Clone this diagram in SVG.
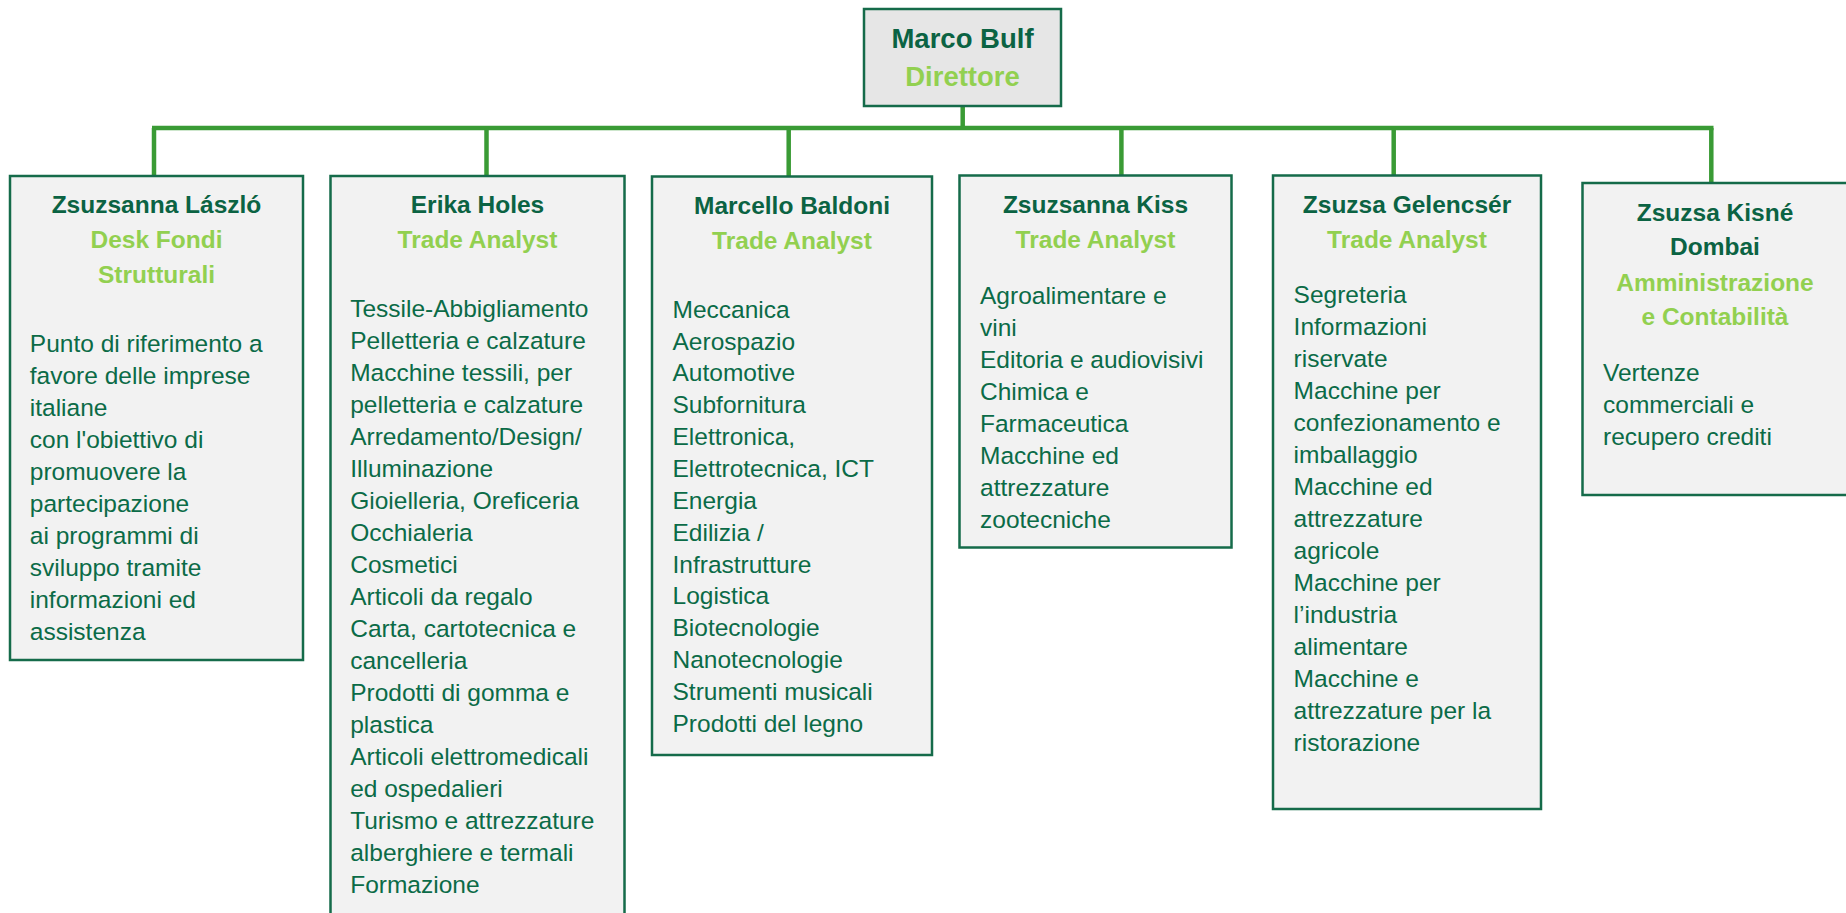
<svg xmlns="http://www.w3.org/2000/svg" width="1846" height="913" viewBox="0 0 1846 913">
<style>
.box{fill:#F2F2F2;stroke:#156B4A;stroke-width:2.5}
.top{fill:#E6E6E6;stroke:#156B4A;stroke-width:2.5}
.name{font-family:"Liberation Sans",Arial,sans-serif;font-weight:bold;font-size:24.5px;fill:#0B6343;text-anchor:middle}
.role{font-family:"Liberation Sans",Arial,sans-serif;font-weight:bold;font-size:24.5px;fill:#92D050;text-anchor:middle}
.body{font-family:"Liberation Sans",Arial,sans-serif;font-size:24.5px;fill:#0B6B47}
.conn{fill:none;stroke:#3A9B35;stroke-width:4.5}
</style>
<rect width="1846" height="913" fill="#FFFFFF"/>
<g id="connectors">
<path class="conn" d="M962.7 106 V128"/>
<path class="conn" d="M152 128 H1713.5"/>
<path class="conn" d="M154 128 V176"/>
<path class="conn" d="M486.5 128 V176"/>
<path class="conn" d="M788.7 128 V176"/>
<path class="conn" d="M1121.4 128 V176"/>
<path class="conn" d="M1393.7 128 V176"/>
<path class="conn" d="M1711.3 128 V183"/>
</g>
<g id="node-director">
<rect class="top" x="864" y="9" width="197" height="97"/>
<text class="name" x="962.5" y="48.3" style="font-size:27.5px">Marco Bulf</text>
<text class="role" x="962.5" y="86" style="font-size:27.5px">Direttore</text>
</g>
<g id="node-laszlo">
<rect class="box" x="10" y="176" width="293" height="484"/>
<text class="name" x="156.5" y="213.3">Zsuzsanna László</text>
<text class="role" x="156.5" y="248.3">Desk Fondi</text>
<text class="role" x="156.5" y="283.3">Strutturali</text>
<text class="body" x="29.8" y="351.5"><tspan x="29.8">Punto di riferimento a</tspan><tspan x="29.8" dy="32">favore delle imprese</tspan><tspan x="29.8" dy="32">italiane</tspan><tspan x="29.8" dy="32">con l'obiettivo di</tspan><tspan x="29.8" dy="32">promuovere la</tspan><tspan x="29.8" dy="32">partecipazione</tspan><tspan x="29.8" dy="32">ai programmi di</tspan><tspan x="29.8" dy="32">sviluppo tramite</tspan><tspan x="29.8" dy="32">informazioni ed</tspan><tspan x="29.8" dy="32">assistenza</tspan></text>
</g>
<g id="node-holes">
<rect class="box" x="330.5" y="176" width="294" height="760"/>
<text class="name" x="477.5" y="213.3">Erika Holes</text>
<text class="role" x="477.5" y="248.3">Trade Analyst</text>
<text class="body" x="350.2" y="316.5"><tspan x="350.2">Tessile-Abbigliamento</tspan><tspan x="350.2" dy="32">Pelletteria e calzature</tspan><tspan x="350.2" dy="32">Macchine tessili, per</tspan><tspan x="350.2" dy="32">pelletteria e calzature</tspan><tspan x="350.2" dy="32">Arredamento/Design/</tspan><tspan x="350.2" dy="32">Illuminazione</tspan><tspan x="350.2" dy="32">Gioielleria, Oreficeria</tspan><tspan x="350.2" dy="32">Occhialeria</tspan><tspan x="350.2" dy="32">Cosmetici</tspan><tspan x="350.2" dy="32">Articoli da regalo</tspan><tspan x="350.2" dy="32">Carta, cartotecnica e</tspan><tspan x="350.2" dy="32">cancelleria</tspan><tspan x="350.2" dy="32">Prodotti di gomma e</tspan><tspan x="350.2" dy="32">plastica</tspan><tspan x="350.2" dy="32">Articoli elettromedicali</tspan><tspan x="350.2" dy="32">ed ospedalieri</tspan><tspan x="350.2" dy="32">Turismo e attrezzature</tspan><tspan x="350.2" dy="32">alberghiere e termali</tspan><tspan x="350.2" dy="32">Formazione</tspan></text>
</g>
<g id="node-baldoni">
<rect class="box" x="652" y="176.5" width="280" height="578.5"/>
<text class="name" x="792" y="214">Marcello Baldoni</text>
<text class="role" x="792" y="248.5">Trade Analyst</text>
<text class="body" x="672.5" y="317.7"><tspan x="672.5">Meccanica</tspan><tspan x="672.5" dy="31.85">Aerospazio</tspan><tspan x="672.5" dy="31.85">Automotive</tspan><tspan x="672.5" dy="31.85">Subfornitura</tspan><tspan x="672.5" dy="31.85">Elettronica,</tspan><tspan x="672.5" dy="31.85">Elettrotecnica, ICT</tspan><tspan x="672.5" dy="31.85">Energia</tspan><tspan x="672.5" dy="31.85">Edilizia /</tspan><tspan x="672.5" dy="31.85">Infrastrutture</tspan><tspan x="672.5" dy="31.85">Logistica</tspan><tspan x="672.5" dy="31.85">Biotecnologie</tspan><tspan x="672.5" dy="31.85">Nanotecnologie</tspan><tspan x="672.5" dy="31.85">Strumenti musicali</tspan><tspan x="672.5" dy="31.85">Prodotti del legno</tspan></text>
</g>
<g id="node-kiss">
<rect class="box" x="959.5" y="175.5" width="272" height="372"/>
<text class="name" x="1095.5" y="213.3">Zsuzsanna Kiss</text>
<text class="role" x="1095.5" y="247.7">Trade Analyst</text>
<text class="body" x="980" y="304"><tspan x="980">Agroalimentare e</tspan><tspan x="980" dy="32">vini</tspan><tspan x="980" dy="32">Editoria e audiovisivi</tspan><tspan x="980" dy="32">Chimica e</tspan><tspan x="980" dy="32">Farmaceutica</tspan><tspan x="980" dy="32">Macchine ed</tspan><tspan x="980" dy="32">attrezzature</tspan><tspan x="980" dy="32">zootecniche</tspan></text>
</g>
<g id="node-gelencser">
<rect class="box" x="1273" y="175.5" width="268" height="633.5"/>
<text class="name" x="1407" y="213.3">Zsuzsa Gelencsér</text>
<text class="role" x="1407" y="247.7">Trade Analyst</text>
<text class="body" x="1293.6" y="303.3"><tspan x="1293.6">Segreteria</tspan><tspan x="1293.6" dy="32">Informazioni</tspan><tspan x="1293.6" dy="32">riservate</tspan><tspan x="1293.6" dy="32">Macchine per</tspan><tspan x="1293.6" dy="32">confezionamento e</tspan><tspan x="1293.6" dy="32">imballaggio</tspan><tspan x="1293.6" dy="32">Macchine ed</tspan><tspan x="1293.6" dy="32">attrezzature</tspan><tspan x="1293.6" dy="32">agricole</tspan><tspan x="1293.6" dy="32">Macchine per</tspan><tspan x="1293.6" dy="32">l’industria</tspan><tspan x="1293.6" dy="32">alimentare</tspan><tspan x="1293.6" dy="32">Macchine e</tspan><tspan x="1293.6" dy="32">attrezzature per la</tspan><tspan x="1293.6" dy="32">ristorazione</tspan></text>
</g>
<g id="node-dombai">
<rect class="box" x="1582.5" y="183" width="275" height="312"/>
<text class="name" x="1715" y="220.7">Zsuzsa Kisné</text>
<text class="name" x="1715" y="255">Dombai</text>
<text class="role" x="1715" y="290.7">Amministrazione</text>
<text class="role" x="1715" y="325">e Contabilità</text>
<text class="body" x="1603" y="380.7"><tspan x="1603">Vertenze</tspan><tspan x="1603" dy="32">commerciali e</tspan><tspan x="1603" dy="32">recupero crediti</tspan></text>
</g>
</svg>
